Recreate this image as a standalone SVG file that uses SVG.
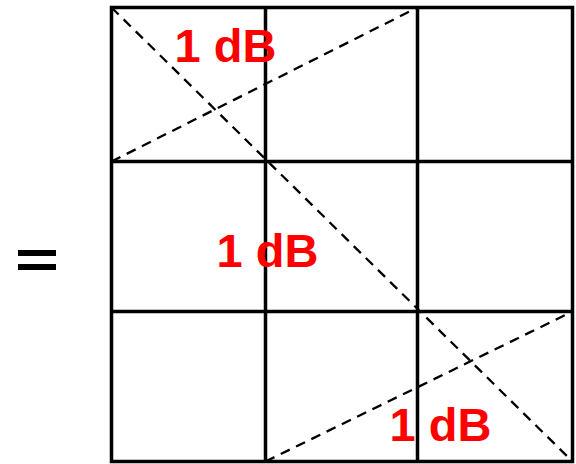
<svg xmlns="http://www.w3.org/2000/svg" width="576" height="464" viewBox="0 0 576 464">
<style>
.grid{stroke:#000;stroke-width:3.5;fill:none}
.dash{stroke:#000;stroke-width:2.3;stroke-dasharray:10 7;fill:none}
.lbl{font-family:"Liberation Sans",Arial,sans-serif;font-weight:bold;font-size:47px;fill:#ff0000;text-anchor:middle}
</style>
<rect width="576" height="464" fill="#fff"/>
<g id="equals">
<rect x="18" y="250" width="38" height="6" fill="#000"/>
<rect x="18" y="264" width="38" height="6" fill="#000"/>
</g>
<g id="grid" class="grid">
<rect x="111.5" y="7.5" width="461" height="454"/>
<line x1="265.5" y1="7.5" x2="265.5" y2="461.5"/>
<line x1="417.5" y1="7.5" x2="417.5" y2="461.5"/>
<line x1="111.5" y1="161.5" x2="572.5" y2="161.5"/>
<line x1="111.5" y1="311.5" x2="572.5" y2="311.5"/>
</g>
<g id="connectors" class="dash">
<line x1="111.5" y1="7.5" x2="572.5" y2="461.5"/>
<line x1="111.5" y1="161.5" x2="417.5" y2="7.5"/>
<line x1="265.5" y1="461.5" x2="572.5" y2="311.5"/>
</g>
<g id="labels">
<text class="lbl" x="225.5" y="62">1 dB</text>
<text class="lbl" x="267.5" y="267">1 dB</text>
<text class="lbl" x="440.5" y="441">1 dB</text>
</g>
</svg>
